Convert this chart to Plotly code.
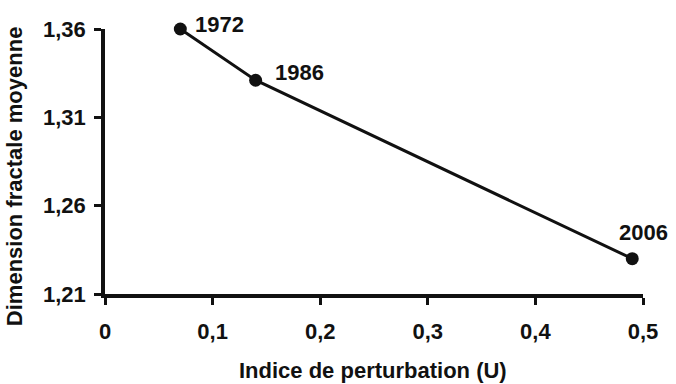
import plotly.graph_objects as go

# Data
years = ["1972", "1986", "2006"]
indice_perturbation = [0.07, 0.14, 0.49]
dimension_fractale = [1.360, 1.331, 1.230]

x_tick_vals = [0, 0.1, 0.2, 0.3, 0.4, 0.5]
x_tick_labels = ["0", "0,1", "0,2", "0,3", "0,4", "0,5"]
y_tick_vals = [1.21, 1.26, 1.31, 1.36]
y_tick_labels = ["1,21", "1,26", "1,31", "1,36"]

FONT = "Liberation Sans, Arial, Helvetica, sans-serif"
INK = "#111111"
FS = 22

fig = go.Figure()
fig.add_trace(go.Scatter(
    x=indice_perturbation,
    y=dimension_fractale,
    mode="lines+markers",
    line=dict(color=INK, width=3),
    marker=dict(color=INK, size=13),
    cliponaxis=False,
    showlegend=False,
    hoverinfo="skip",
))

# year labels (offsets in pixels)
label_style = [
    dict(xanchor="left", yanchor="middle", xshift=13, yshift=5),
    dict(xanchor="left", yanchor="middle", xshift=17, yshift=8),
    dict(xanchor="center", yanchor="middle", xshift=11, yshift=26),
]
for xv, yv, yr, st in zip(indice_perturbation, dimension_fractale, years, label_style):
    fig.add_annotation(
        x=xv, y=yv, text=yr, showarrow=False,
        font=dict(family=FONT, size=FS, color=INK, weight="bold"),
        **st,
    )

# axis titles
fig.add_annotation(
    xref="paper", yref="paper", x=-0.169, y=0.445,
    text="Dimension fractale moyenne", textangle=-90, showarrow=False,
    xanchor="center", yanchor="middle",
    font=dict(family=FONT, size=FS, color=INK, weight="bold"),
)
fig.add_annotation(
    xref="paper", yref="paper", x=0.498, y=-0.289,
    text="Indice de perturbation (U)", showarrow=False,
    xanchor="center", yanchor="middle",
    font=dict(family=FONT, size=FS, color=INK, weight="bold"),
)

fig.update_layout(
    width=676, height=384,
    margin=dict(l=105, r=33, t=29, b=90),
    paper_bgcolor="white", plot_bgcolor="white",
    font=dict(family=FONT, size=FS, color=INK, weight="bold"),
    xaxis=dict(
        range=[0, 0.5],
        tickvals=x_tick_vals, ticktext=x_tick_labels,
        showgrid=False, zeroline=False,
        showline=True, linecolor=INK, linewidth=3.5,
        ticks="outside", ticklen=7, tickwidth=3, tickcolor=INK,
        ticklabelstandoff=8,
        automargin=False,
        fixedrange=True,
    ),
    yaxis=dict(
        range=[1.21, 1.36],
        tickvals=y_tick_vals, ticktext=y_tick_labels,
        showgrid=False, zeroline=False,
        showline=True, linecolor=INK, linewidth=3.5,
        ticks="outside", ticklen=7, tickwidth=3, tickcolor=INK,
        ticklabelstandoff=4,
        automargin=False,
        fixedrange=True,
    ),
)

fig.write_html("out.html")
